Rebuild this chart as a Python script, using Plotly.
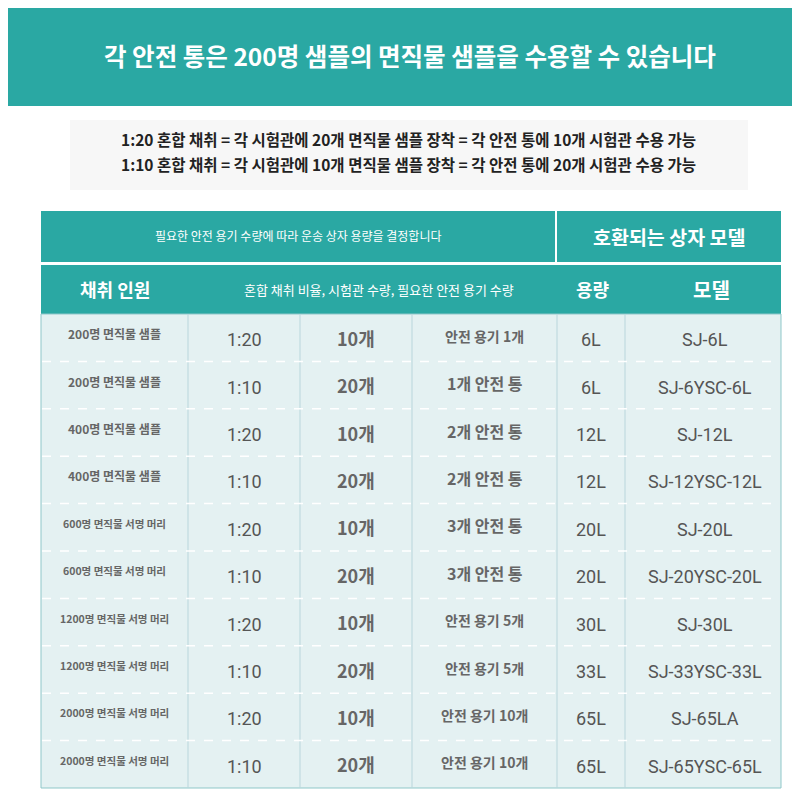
import plotly.graph_objects as go

title = "각 안전 통은 200명 샘플의 면직물 샘플을 수용할 수 있습니다"
notes = ["1:20 혼합 채취 = 각 시험관에 20개 면직물 샘플 장착 = 각 안전 통에 10개 시험관 수용 가능",
         "1:10 혼합 채취 = 각 시험관에 10개 면직물 샘플 장착 = 각 안전 통에 20개 시험관 수용 가능"]
head1 = ["필요한 안전 용기 수량에 따라 운송 상자 용량을 결정합니다", "호환되는 상자 모델"]
head2 = ["채취 인원", "혼합 채취 비율, 시험관 수량, 필요한 안전 용기 수량", "용량", "모델"]
people = ["200명 면직물 샘플", "200명 면직물 샘플", "400명 면직물 샘플", "400명 면직물 샘플",
          "600명 면직물 서명 머리", "600명 면직물 서명 머리", "1200명 면직물 서명 머리",
          "1200명 면직물 서명 머리", "2000명 면직물 서명 머리", "2000명 면직물 서명 머리"]
ratio = ["1:20", "1:10"] * 5
tubes = ["10개", "20개"] * 5
boxes = ["안전 용기 1개", "1개 안전 통", "2개 안전 통", "2개 안전 통", "3개 안전 통", "3개 안전 통",
         "안전 용기 5개", "안전 용기 5개", "안전 용기 10개", "안전 용기 10개"]
capacity = ["6L", "6L", "12L", "12L", "20L", "20L", "30L", "33L", "65L", "65L"]
model = ["SJ-6L", "SJ-6YSC-6L", "SJ-12L", "SJ-12YSC-12L", "SJ-20L", "SJ-20YSC-20L",
         "SJ-30L", "SJ-33YSC-33L", "SJ-65LA", "SJ-65YSC-65L"]

TEAL = "#2aa8a3"
F = "Noto Sans CJK KR"
cols = [33, 180, 292, 404, 549, 617, 773]
top, bot = 306, 780
n = len(people)
rh = (bot - top) / n

fig = go.Figure()
shapes, ann = [], []
def A(x, y, t, size, color="#555", bold=False, family=F):
    ann.append(dict(x=x, y=y, xref="x", yref="y", text=f"<b>{t}</b>" if bold else t, showarrow=False,
                    font=dict(size=size, color=color, family=family), xanchor="center", yanchor="middle"))
def R(x0, y0, x1, y1, fill, line=None, w=0):
    shapes.append(dict(type="rect", x0=x0, y0=y0, x1=x1, y1=y1, xref="x", yref="y",
                       fillcolor=fill, line=dict(color=line or fill, width=w), layer="below"))

R(0, 0, 800, 98, TEAL)
A(402, 47, title, 24.5, "white", True)
R(62, 112, 740, 182, "#f7f7f7")
A(400, 131, notes[0], 15.5, "#222", True)
A(400, 156, notes[1], 15.5, "#222", True)

R(33, 203, 773, 254, TEAL)
R(33, 257, 773, 306, TEAL)
shapes.append(dict(type="line", x0=548, x1=548, y0=203, y1=254, xref="x", yref="y", line=dict(color="white", width=2)))
A(290, 227, head1[0], 12, "white")
A(661, 228, head1[1], 19.5, "white", True)
for x, t, s in zip([107, 371, 585, 703], head2, [18, 13, 18, 20]):
    A(x, 281, t, s, "white", s > 14)

R(33, top, 773, bot, "#e4f1f2", "#8fc7c9", 1)
for c in cols[1:-1]:
    shapes.append(dict(type="line", x0=c, x1=c, y0=top, y1=bot, xref="x", yref="y", line=dict(color="#b9d6dc", width=1)))
for i in range(1, n):
    y = top + i * rh
    shapes.append(dict(type="line", x0=34, x1=772, y0=y, y1=y, xref="x", yref="y", line=dict(color="white", width=1.5, dash="dash")))

cx = [(cols[i] + cols[i + 1]) / 2 for i in range(6)]
for i in range(n):
    y = top + (i + 0.5) * rh
    A(cx[0], y - 4, people[i], 12 if i < 4 else 10.5, "#666", True)
    A(cx[1], y + 2, ratio[i], 18, "#555", family="Liberation Sans Narrow, Roboto")
    A(cx[2], y, tubes[i], 18, "#666", True)
    A(cx[3], y - 2, boxes[i], 16 if i in (1, 2, 3, 4, 5) else 14, "#666", True)
    A(cx[4], y + 2, capacity[i], 18, "#555", family="Liberation Sans Narrow, Roboto")
    A(cx[5] + 2, y + 2, model[i], 18, "#555", family="Liberation Sans Narrow, Roboto")

fig.update_layout(width=800, height=800, margin=dict(l=0, r=0, t=0, b=0),
                  paper_bgcolor="white", plot_bgcolor="white", shapes=shapes, annotations=ann,
                  xaxis=dict(range=[0, 800], visible=False, fixedrange=True),
                  yaxis=dict(range=[800, 0], visible=False, fixedrange=True), showlegend=False)
fig.write_html("out.html")
